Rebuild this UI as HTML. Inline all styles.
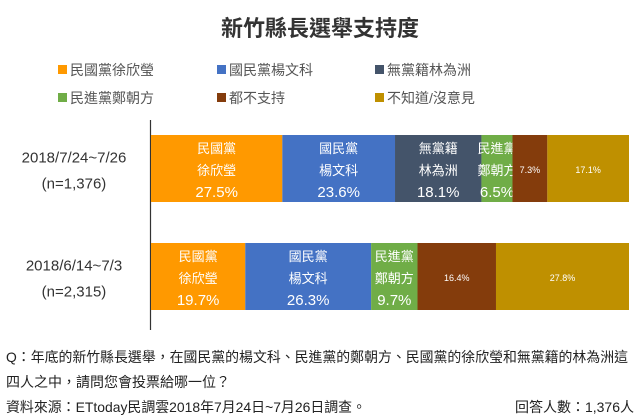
<!DOCTYPE html>
<html><head><meta charset="utf-8"><style>
html,body{margin:0;padding:0;background:#fff;}
svg{display:block;font-family:"Liberation Sans","Noto Sans CJK TC",sans-serif;}
</style></head><body>
<svg id="chart" width="640" height="418" viewBox="0 0 640 418">
<text x="320" y="36" text-anchor="middle" font-size="22" font-weight="bold" fill="#333">新竹縣長選舉支持度</text>
<g id="legend"></g>
<line x1="150.5" y1="120" x2="150.5" y2="330" stroke="#333" stroke-width="1.2"/>
<g id="bars"></g>
<g id="ylabels"></g>
<text x="6" y="362" font-size="14" fill="#222" textLength="622" lengthAdjust="spacingAndGlyphs">Q：年底的新竹縣長選舉，在國民黨的楊文科、民進黨的鄭朝方、民國黨的徐欣瑩和無黨籍的林為洲這</text>
<text x="6" y="387" font-size="14" fill="#222">四人之中，請問您會投票給哪一位？</text>
<text x="6" y="412" font-size="14" fill="#222" textLength="360" lengthAdjust="spacingAndGlyphs">資料來源：ETtoday民調雲2018年7月24日~7月26日調查。</text>
<text x="634" y="412" text-anchor="end" font-size="14" fill="#222">回答人數：1,376人</text>
</svg>
<script>
const categories = ["2018/7/24~7/26|(n=1,376)", "2018/6/14~7/3|(n=2,315)"];
const seriesNames = ["民國黨徐欣瑩","國民黨楊文科","無黨籍林為洲","民進黨鄭朝方","都不支持","不知道/沒意見"];
const seriesColors = ["#FF9900","#4472C4","#44546A","#70AD47","#843C0C","#BF9000"];
const barLabelNames = [["民國黨","徐欣瑩"],["國民黨","楊文科"],["無黨籍","林為洲"],["民進黨","鄭朝方"],null,null];
const values2018Jul = [27.5,23.6,18.1,6.5,7.3,17.1];
const values2018Jun = [19.7,26.3,0,9.7,16.4,27.8];
const allValues = [values2018Jul, values2018Jun];

const NS="http://www.w3.org/2000/svg";
const x0=151, x1=629;
function xScale(cum,total){return x0+(x1-x0)*cum/total;}
const barTops=[135,243], barH=67;
function mk(tag,attrs,parent){const e=document.createElementNS(NS,tag);for(const k in attrs)e.setAttribute(k,attrs[k]);parent.appendChild(e);return e;}

const lg=document.getElementById('legend');
const lgX=[58,217,375], lgY=[70,98];
seriesNames.forEach((n,i)=>{
  const x=lgX[i%3], y=lgY[Math.floor(i/3)];
  const g=mk('g',{},lg);
  
  
  mk('rect',{x:x,y:y-5,width:9,height:9,fill:seriesColors[i]},g);
  const t=mk('text',{x:x+12,y:y+5,'font-size':14,fill:'#555'},g);
  t.textContent=n;
});

const bars=document.getElementById('bars');
allValues.forEach((vals,bi)=>{
  const total=vals.reduce((a,b)=>a+b,0);
  let cum=0;
  const top=barTops[bi];
  vals.forEach((v,si)=>{
    if(v<=0)return;
    const xa=xScale(cum,total), xb=xScale(cum+v,total);
    cum+=v;
    const r=mk('rect',{x:xa,y:top,width:xb-xa,height:barH,fill:seriesColors[si]},bars);
    
    
    const cx=(xa+xb)/2;
    const lab=barLabelNames[si];
    if(lab){
      [lab[0],lab[1]].forEach((s,li)=>{
        const t=mk('text',{x:cx,y:top+18+li*22,'text-anchor':'middle','font-size':13,fill:'#fff'},bars);
        t.textContent=s;
        
        
      });
      const t=mk('text',{x:cx,y:top+62,'text-anchor':'middle','font-size':15,fill:'#fff'},bars);
      t.textContent=v.toFixed(1)+'%';
      
      
    } else {
      const t=mk('text',{x:cx,y:top+38,'text-anchor':'middle','font-size':9,fill:'#fff'},bars);
      t.textContent=v.toFixed(1)+'%';
      
      
    }
  });
});

const yl=document.getElementById('ylabels');
categories.forEach((c,i)=>{
  const parts=c.split('|');
  const cy=barTops[i]+barH/2;
  parts.forEach((p,li)=>{
    const t=mk('text',{x:74,y:cy-6+li*26,'text-anchor':'middle','font-size':15,fill:'#333'},yl);
    t.textContent=p;
    
    
  });
});
</script>
</body></html>
